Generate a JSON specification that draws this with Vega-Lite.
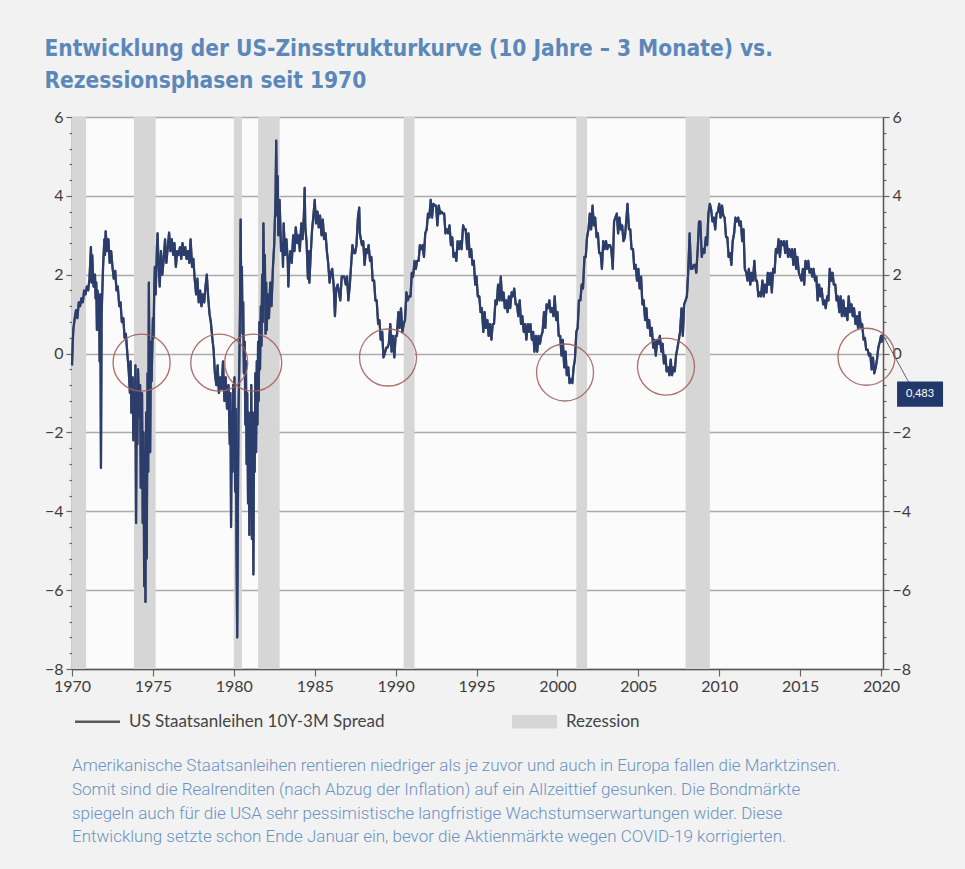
{
"$schema":"https://vega.github.io/schema/vega-lite/v6.json",
"background":"#f2f2f2",
"padding":{"left":44,"top":37,"right":22,"bottom":15},
"title":{"text":["Entwicklung der US-Zinsstrukturkurve (10 Jahre – 3 Monate) vs.","Rezessionsphasen seit 1970"],"anchor":"start","font":"DejaVu Sans Condensed, Liberation Sans Narrow, Roboto","fontSize":22.5,"fontWeight":"bold","color":"#5b88b9","lineHeight":32,"offset":17},
"spacing":27,
"resolve":{"legend":{"color":"independent"}},
"datasets":{
"rec":[{"s":1970.0,"e":1970.87},{"s":1973.83,"e":1975.17},{"s":1980.0,"e":1980.5},{"s":1981.5,"e":1982.83},{"s":1990.5,"e":1991.17},{"s":2001.17,"e":2001.83},{"s":2007.92,"e":2009.42}],
"circ":[{"t":1974.3,"v":-0.23},{"t":1979.1,"v":-0.23},{"t":1981.2,"v":-0.23},{"t":1989.53,"v":-0.1},{"t":2000.47,"v":-0.48},{"t":2006.71,"v":-0.33},{"t":2019.1,"v":-0.08}],
"ann":[{"t":2020.1,"v":0.483,"label":"0,483"}],
"s":[
{"t":1970.00,"v":-0.3},{"t":1970.04,"v":0.2},{"t":1970.08,"v":0.6},{"t":1970.17,"v":0.9},{"t":1970.25,"v":1.1},{"t":1970.33,"v":0.9},{"t":1970.42,"v":1.3},{"t":1970.50,"v":1.2},{"t":1970.58,"v":1.4},{"t":1970.67,"v":1.3},{"t":1970.75,"v":1.6},{"t":1970.83,"v":1.5},{"t":1970.92,"v":1.7},
{"t":1971.00,"v":1.6},{"t":1971.08,"v":1.9},{"t":1971.17,"v":2.7},{"t":1971.21,"v":1.8},{"t":1971.25,"v":2.5},{"t":1971.33,"v":1.7},{"t":1971.42,"v":2.0},{"t":1971.46,"v":1.4},{"t":1971.50,"v":1.8},{"t":1971.54,"v":0.6},{"t":1971.58,"v":1.6},{"t":1971.67,"v":1.2},{"t":1971.71,"v":-0.2},{"t":1971.75,"v":1.5},{"t":1971.79,"v":-2.9},{"t":1971.83,"v":1.0},{"t":1971.92,"v":2.2},
{"t":1972.00,"v":2.9},{"t":1972.04,"v":2.5},{"t":1972.08,"v":3.1},{"t":1972.17,"v":2.6},{"t":1972.25,"v":2.9},{"t":1972.33,"v":2.3},{"t":1972.42,"v":2.6},{"t":1972.50,"v":2.2},{"t":1972.58,"v":1.9},{"t":1972.67,"v":2.1},{"t":1972.75,"v":1.6},{"t":1972.83,"v":1.7},{"t":1972.92,"v":1.2},
{"t":1973.00,"v":1.3},{"t":1973.08,"v":0.8},{"t":1973.17,"v":0.9},{"t":1973.25,"v":0.4},{"t":1973.33,"v":0.5},{"t":1973.42,"v":0.0},{"t":1973.50,"v":-0.4},{"t":1973.58,"v":-1.0},{"t":1973.62,"v":-0.2},{"t":1973.67,"v":-1.5},{"t":1973.75,"v":-0.6},{"t":1973.79,"v":-2.2},{"t":1973.83,"v":-0.9},{"t":1973.88,"v":-1.8},{"t":1973.92,"v":-0.3},{"t":1973.96,"v":-4.3},
{"t":1974.00,"v":-1.0},{"t":1974.04,"v":-2.3},{"t":1974.08,"v":-0.4},{"t":1974.17,"v":-1.6},{"t":1974.21,"v":-0.8},{"t":1974.25,"v":-3.4},{"t":1974.33,"v":-1.0},{"t":1974.37,"v":-4.3},{"t":1974.42,"v":-2.0},{"t":1974.46,"v":-5.9},{"t":1974.50,"v":-2.5},{"t":1974.54,"v":-6.3},{"t":1974.58,"v":-1.5},{"t":1974.62,"v":-5.2},{"t":1974.67,"v":-0.5},{"t":1974.71,"v":-3.0},{"t":1974.75,"v":1.8},{"t":1974.79,"v":-0.8},{"t":1974.83,"v":-2.5},{"t":1974.88,"v":0.3},{"t":1974.92,"v":-0.7},
{"t":1975.00,"v":0.9},{"t":1975.04,"v":0.4},{"t":1975.08,"v":1.6},{"t":1975.12,"v":2.2},{"t":1975.17,"v":1.5},{"t":1975.25,"v":2.7},{"t":1975.29,"v":3.05},{"t":1975.33,"v":2.5},{"t":1975.42,"v":1.7},{"t":1975.50,"v":2.6},{"t":1975.58,"v":2.0},{"t":1975.67,"v":2.4},{"t":1975.75,"v":2.9},{"t":1975.83,"v":2.3},{"t":1975.92,"v":2.7},
{"t":1976.00,"v":3.07},{"t":1976.08,"v":2.6},{"t":1976.17,"v":2.9},{"t":1976.25,"v":2.5},{"t":1976.33,"v":2.8},{"t":1976.42,"v":2.2},{"t":1976.50,"v":2.6},{"t":1976.58,"v":2.5},{"t":1976.67,"v":2.7},{"t":1976.75,"v":2.4},{"t":1976.83,"v":2.8},{"t":1976.92,"v":2.5},
{"t":1977.00,"v":2.7},{"t":1977.08,"v":2.4},{"t":1977.17,"v":2.6},{"t":1977.25,"v":2.3},{"t":1977.33,"v":2.9},{"t":1977.42,"v":2.2},{"t":1977.50,"v":2.4},{"t":1977.58,"v":1.9},{"t":1977.67,"v":1.5},{"t":1977.75,"v":1.9},{"t":1977.83,"v":1.3},{"t":1977.92,"v":1.6},
{"t":1978.00,"v":1.2},{"t":1978.08,"v":1.5},{"t":1978.17,"v":1.3},{"t":1978.25,"v":1.7},{"t":1978.33,"v":2.0},{"t":1978.42,"v":1.4},{"t":1978.50,"v":1.0},{"t":1978.58,"v":0.8},{"t":1978.67,"v":0.4},{"t":1978.75,"v":0.1},{"t":1978.83,"v":-0.5},{"t":1978.92,"v":-0.8},
{"t":1979.00,"v":-0.3},{"t":1979.08,"v":-1.0},{"t":1979.17,"v":-0.6},{"t":1979.25,"v":-0.9},{"t":1979.33,"v":-0.2},{"t":1979.42,"v":-1.2},{"t":1979.50,"v":-0.6},{"t":1979.58,"v":-1.4},{"t":1979.67,"v":-0.8},{"t":1979.75,"v":-2.3},{"t":1979.79,"v":-1.0},{"t":1979.83,"v":-4.4},{"t":1979.88,"v":-1.5},{"t":1979.92,"v":-3.0},{"t":1979.96,"v":-0.8},
{"t":1980.00,"v":-2.5},{"t":1980.04,"v":-0.6},{"t":1980.08,"v":-3.5},{"t":1980.12,"v":-1.4},{"t":1980.17,"v":-5.0},{"t":1980.21,"v":-7.2},{"t":1980.25,"v":-4.0},{"t":1980.29,"v":-1.5},{"t":1980.33,"v":-0.5},{"t":1980.38,"v":1.0},{"t":1980.42,"v":3.4},{"t":1980.46,"v":1.5},{"t":1980.50,"v":2.2},{"t":1980.54,"v":0.5},{"t":1980.58,"v":1.3},{"t":1980.62,"v":-0.5},{"t":1980.67,"v":0.3},{"t":1980.71,"v":-1.8},{"t":1980.75,"v":-0.2},{"t":1980.79,"v":-2.8},{"t":1980.83,"v":-1.0},{"t":1980.88,"v":-3.8},{"t":1980.92,"v":-1.5},{"t":1980.96,"v":-4.6},
{"t":1981.00,"v":-2.0},{"t":1981.04,"v":-3.5},{"t":1981.08,"v":-0.8},{"t":1981.12,"v":-4.7},{"t":1981.17,"v":-1.5},{"t":1981.21,"v":-5.6},{"t":1981.25,"v":-2.0},{"t":1981.29,"v":-3.0},{"t":1981.33,"v":-0.5},{"t":1981.38,"v":-2.5},{"t":1981.42,"v":-0.2},{"t":1981.46,"v":-1.8},{"t":1981.50,"v":0.3},{"t":1981.54,"v":-1.2},{"t":1981.58,"v":0.8},{"t":1981.62,"v":-0.4},{"t":1981.67,"v":1.2},{"t":1981.71,"v":0.2},{"t":1981.75,"v":2.0},{"t":1981.79,"v":0.8},{"t":1981.83,"v":3.3},{"t":1981.88,"v":1.5},{"t":1981.92,"v":2.5},{"t":1981.96,"v":0.5},
{"t":1982.00,"v":1.8},{"t":1982.04,"v":0.6},{"t":1982.08,"v":1.5},{"t":1982.17,"v":0.9},{"t":1982.25,"v":1.8},{"t":1982.33,"v":1.2},{"t":1982.42,"v":2.2},{"t":1982.50,"v":2.8},{"t":1982.58,"v":4.0},{"t":1982.62,"v":5.4},{"t":1982.67,"v":3.5},{"t":1982.71,"v":4.5},{"t":1982.75,"v":3.0},{"t":1982.83,"v":3.9},{"t":1982.92,"v":2.6},
{"t":1983.00,"v":2.8},{"t":1983.04,"v":2.2},{"t":1983.08,"v":3.3},{"t":1983.17,"v":2.5},{"t":1983.25,"v":2.9},{"t":1983.33,"v":2.4},{"t":1983.37,"v":1.7},{"t":1983.42,"v":2.3},{"t":1983.50,"v":2.6},{"t":1983.58,"v":2.3},{"t":1983.67,"v":3.0},{"t":1983.75,"v":2.6},{"t":1983.83,"v":3.2},{"t":1983.92,"v":2.8},
{"t":1984.00,"v":3.0},{"t":1984.08,"v":2.6},{"t":1984.17,"v":3.3},{"t":1984.25,"v":2.9},{"t":1984.33,"v":3.5},{"t":1984.38,"v":4.2},{"t":1984.42,"v":3.2},{"t":1984.50,"v":2.8},{"t":1984.58,"v":1.9},{"t":1984.62,"v":2.6},{"t":1984.67,"v":1.8},{"t":1984.75,"v":2.5},{"t":1984.83,"v":3.1},{"t":1984.92,"v":3.5},
{"t":1985.00,"v":3.9},{"t":1985.08,"v":3.3},{"t":1985.17,"v":3.6},{"t":1985.25,"v":3.2},{"t":1985.33,"v":3.5},{"t":1985.42,"v":3.0},{"t":1985.50,"v":3.4},{"t":1985.58,"v":2.9},{"t":1985.67,"v":3.05},{"t":1985.75,"v":2.6},{"t":1985.83,"v":2.3},{"t":1985.92,"v":1.8},
{"t":1986.00,"v":2.05},{"t":1986.08,"v":2.15},{"t":1986.17,"v":1.75},{"t":1986.25,"v":0.95},{"t":1986.33,"v":1.65},{"t":1986.42,"v":1.75},{"t":1986.50,"v":1.55},{"t":1986.58,"v":1.35},{"t":1986.67,"v":1.95},{"t":1986.75,"v":1.95},{"t":1986.83,"v":1.95},{"t":1986.92,"v":1.75},
{"t":1987.00,"v":1.95},{"t":1987.08,"v":1.35},{"t":1987.17,"v":1.75},{"t":1987.25,"v":2.25},{"t":1987.33,"v":2.75},{"t":1987.42,"v":2.55},{"t":1987.50,"v":2.55},{"t":1987.58,"v":2.75},{"t":1987.67,"v":3.45},{"t":1987.75,"v":3.7},{"t":1987.79,"v":3.05},{"t":1987.83,"v":2.95},{"t":1987.92,"v":2.75},
{"t":1988.00,"v":2.85},{"t":1988.08,"v":2.25},{"t":1988.17,"v":2.65},{"t":1988.25,"v":2.55},{"t":1988.33,"v":2.75},{"t":1988.42,"v":2.35},{"t":1988.50,"v":2.45},{"t":1988.58,"v":1.85},{"t":1988.67,"v":1.85},{"t":1988.75,"v":1.35},{"t":1988.83,"v":1.35},{"t":1988.92,"v":0.75},
{"t":1989.00,"v":0.85},{"t":1989.08,"v":0.35},{"t":1989.17,"v":0.55},{"t":1989.25,"v":-0.1},{"t":1989.33,"v":0.0},{"t":1989.42,"v":0.15},{"t":1989.50,"v":0.15},{"t":1989.58,"v":0.25},{"t":1989.67,"v":0.75},{"t":1989.75,"v":0.05},{"t":1989.83,"v":0.45},{"t":1989.92,"v":-0.1},
{"t":1990.00,"v":0.45},{"t":1990.08,"v":0.45},{"t":1990.17,"v":1.05},{"t":1990.25,"v":0.65},{"t":1990.33,"v":1.15},{"t":1990.42,"v":0.55},{"t":1990.50,"v":0.75},{"t":1990.58,"v":0.85},{"t":1990.67,"v":1.55},{"t":1990.75,"v":1.35},{"t":1990.83,"v":1.45},{"t":1990.92,"v":1.45},
{"t":1991.00,"v":2.05},{"t":1991.08,"v":1.95},{"t":1991.17,"v":2.35},{"t":1991.25,"v":2.15},{"t":1991.33,"v":2.35},{"t":1991.42,"v":2.35},{"t":1991.50,"v":2.75},{"t":1991.58,"v":2.65},{"t":1991.67,"v":2.75},{"t":1991.75,"v":2.45},{"t":1991.83,"v":3.05},{"t":1991.92,"v":3.15},
{"t":1992.00,"v":3.55},{"t":1992.08,"v":3.45},{"t":1992.17,"v":3.9},{"t":1992.25,"v":3.45},{"t":1992.33,"v":3.8},{"t":1992.42,"v":3.75},{"t":1992.50,"v":3.75},{"t":1992.58,"v":3.25},{"t":1992.67,"v":3.75},{"t":1992.75,"v":3.55},{"t":1992.83,"v":3.6},{"t":1992.92,"v":3.55},
{"t":1993.00,"v":3.55},{"t":1993.08,"v":3.05},{"t":1993.17,"v":3.15},{"t":1993.25,"v":3.05},{"t":1993.33,"v":3.25},{"t":1993.42,"v":2.75},{"t":1993.50,"v":2.95},{"t":1993.58,"v":2.45},{"t":1993.67,"v":2.55},{"t":1993.75,"v":2.35},{"t":1993.83,"v":2.85},{"t":1993.92,"v":2.65},
{"t":1994.00,"v":2.85},{"t":1994.08,"v":2.65},{"t":1994.17,"v":3.25},{"t":1994.25,"v":3.15},{"t":1994.33,"v":3.15},{"t":1994.42,"v":2.65},{"t":1994.50,"v":3.05},{"t":1994.58,"v":2.45},{"t":1994.67,"v":2.65},{"t":1994.75,"v":2.25},{"t":1994.83,"v":2.35},{"t":1994.92,"v":1.75},
{"t":1995.00,"v":1.95},{"t":1995.08,"v":1.45},{"t":1995.17,"v":1.45},{"t":1995.25,"v":1.05},{"t":1995.33,"v":1.15},{"t":1995.42,"v":0.55},{"t":1995.50,"v":1.05},{"t":1995.58,"v":0.65},{"t":1995.67,"v":0.85},{"t":1995.75,"v":0.45},{"t":1995.83,"v":0.75},{"t":1995.92,"v":0.35},
{"t":1996.00,"v":0.75},{"t":1996.08,"v":0.75},{"t":1996.17,"v":1.35},{"t":1996.25,"v":1.25},{"t":1996.33,"v":1.75},{"t":1996.42,"v":1.35},{"t":1996.50,"v":1.95},{"t":1996.58,"v":1.35},{"t":1996.67,"v":1.55},{"t":1996.75,"v":1.15},{"t":1996.83,"v":1.35},{"t":1996.92,"v":1.05},
{"t":1997.00,"v":1.45},{"t":1997.08,"v":1.15},{"t":1997.17,"v":1.55},{"t":1997.25,"v":1.45},{"t":1997.33,"v":1.65},{"t":1997.42,"v":1.25},{"t":1997.50,"v":1.25},{"t":1997.58,"v":0.95},{"t":1997.67,"v":1.35},{"t":1997.75,"v":0.75},{"t":1997.83,"v":0.95},{"t":1997.92,"v":0.55},
{"t":1998.00,"v":0.75},{"t":1998.08,"v":0.35},{"t":1998.17,"v":0.75},{"t":1998.25,"v":0.55},{"t":1998.33,"v":0.75},{"t":1998.42,"v":0.35},{"t":1998.50,"v":0.55},{"t":1998.58,"v":0.05},{"t":1998.67,"v":0.45},{"t":1998.75,"v":0.05},{"t":1998.83,"v":0.45},{"t":1998.92,"v":0.25},
{"t":1999.00,"v":0.45},{"t":1999.08,"v":0.55},{"t":1999.17,"v":1.05},{"t":1999.25,"v":0.65},{"t":1999.33,"v":1.25},{"t":1999.42,"v":1.15},{"t":1999.50,"v":1.35},{"t":1999.58,"v":1.05},{"t":1999.67,"v":1.15},{"t":1999.75,"v":0.95},{"t":1999.83,"v":1.45},{"t":1999.92,"v":0.85},
{"t":2000.00,"v":1.05},{"t":2000.08,"v":0.45},{"t":2000.17,"v":0.45},{"t":2000.25,"v":-0.05},{"t":2000.33,"v":0.35},{"t":2000.42,"v":-0.35},{"t":2000.50,"v":0.05},{"t":2000.58,"v":-0.55},{"t":2000.67,"v":-0.35},{"t":2000.75,"v":-0.75},{"t":2000.83,"v":-0.65},{"t":2000.92,"v":-0.75},
{"t":2001.00,"v":-0.35},{"t":2001.08,"v":-0.15},{"t":2001.17,"v":0.55},{"t":2001.25,"v":0.65},{"t":2001.33,"v":1.35},{"t":2001.42,"v":1.35},{"t":2001.50,"v":1.75},{"t":2001.58,"v":1.65},{"t":2001.67,"v":2.45},{"t":2001.75,"v":2.45},{"t":2001.83,"v":2.95},{"t":2001.92,"v":3.15},
{"t":2002.00,"v":3.55},{"t":2002.08,"v":3.15},{"t":2002.17,"v":3.75},{"t":2002.25,"v":3.25},{"t":2002.33,"v":3.45},{"t":2002.42,"v":2.95},{"t":2002.50,"v":3.05},{"t":2002.58,"v":2.55},{"t":2002.67,"v":2.55},{"t":2002.75,"v":2.15},{"t":2002.83,"v":2.85},{"t":2002.92,"v":2.65},
{"t":2003.00,"v":2.85},{"t":2003.08,"v":2.65},{"t":2003.17,"v":2.75},{"t":2003.25,"v":2.75},{"t":2003.33,"v":2.65},{"t":2003.42,"v":2.15},{"t":2003.50,"v":3.35},{"t":2003.58,"v":3.45},{"t":2003.67,"v":3.55},{"t":2003.75,"v":3.05},{"t":2003.83,"v":3.45},{"t":2003.92,"v":3.15},
{"t":2004.00,"v":3.25},{"t":2004.08,"v":2.85},{"t":2004.17,"v":2.95},{"t":2004.25,"v":3.35},{"t":2004.33,"v":3.8},{"t":2004.42,"v":3.15},{"t":2004.50,"v":3.15},{"t":2004.58,"v":2.65},{"t":2004.67,"v":2.65},{"t":2004.75,"v":2.15},{"t":2004.83,"v":2.25},{"t":2004.92,"v":1.85},
{"t":2005.00,"v":2.15},{"t":2005.08,"v":1.65},{"t":2005.17,"v":1.95},{"t":2005.25,"v":1.25},{"t":2005.33,"v":1.35},{"t":2005.42,"v":0.85},{"t":2005.50,"v":1.15},{"t":2005.58,"v":0.65},{"t":2005.67,"v":0.85},{"t":2005.75,"v":0.45},{"t":2005.83,"v":0.65},{"t":2005.92,"v":0.15},
{"t":2006.00,"v":0.35},{"t":2006.08,"v":-0.05},{"t":2006.17,"v":0.35},{"t":2006.25,"v":0.25},{"t":2006.33,"v":0.45},{"t":2006.42,"v":0.05},{"t":2006.50,"v":0.25},{"t":2006.58,"v":-0.25},{"t":2006.67,"v":-0.05},{"t":2006.75,"v":-0.45},{"t":2006.83,"v":-0.35},{"t":2006.92,"v":-0.55},
{"t":2007.00,"v":-0.15},{"t":2007.08,"v":-0.55},{"t":2007.17,"v":-0.35},{"t":2007.25,"v":-0.45},{"t":2007.33,"v":-0.05},{"t":2007.42,"v":0.15},{"t":2007.50,"v":0.35},{"t":2007.58,"v":0.55},{"t":2007.67,"v":1.15},{"t":2007.75,"v":0.45},{"t":2007.83,"v":1.25},{"t":2007.92,"v":1.35},
{"t":2008.00,"v":1.45},{"t":2008.08,"v":2.05},{"t":2008.17,"v":3.05},{"t":2008.25,"v":2.15},{"t":2008.33,"v":2.15},{"t":2008.42,"v":2.25},{"t":2008.50,"v":2.25},{"t":2008.58,"v":2.05},{"t":2008.67,"v":2.65},{"t":2008.75,"v":3.35},{"t":2008.83,"v":3.35},{"t":2008.92,"v":2.45},
{"t":2009.00,"v":2.65},{"t":2009.08,"v":2.55},{"t":2009.17,"v":2.95},{"t":2009.25,"v":2.75},{"t":2009.33,"v":3.55},{"t":2009.42,"v":3.8},{"t":2009.50,"v":3.65},{"t":2009.58,"v":3.35},{"t":2009.67,"v":3.45},{"t":2009.75,"v":3.15},{"t":2009.83,"v":3.55},{"t":2009.92,"v":3.6},
{"t":2010.00,"v":3.8},{"t":2010.08,"v":3.45},{"t":2010.17,"v":3.75},{"t":2010.25,"v":3.5},{"t":2010.33,"v":3.45},{"t":2010.42,"v":2.95},{"t":2010.50,"v":2.95},{"t":2010.58,"v":2.45},{"t":2010.67,"v":2.55},{"t":2010.75,"v":2.25},{"t":2010.83,"v":2.85},{"t":2010.92,"v":3.05},
{"t":2011.00,"v":3.45},{"t":2011.08,"v":3.35},{"t":2011.17,"v":3.45},{"t":2011.25,"v":3.25},{"t":2011.33,"v":3.35},{"t":2011.42,"v":2.85},{"t":2011.50,"v":3.15},{"t":2011.58,"v":2.15},{"t":2011.67,"v":2.05},{"t":2011.75,"v":1.85},{"t":2011.83,"v":2.15},{"t":2011.92,"v":1.75},
{"t":2012.00,"v":2.05},{"t":2012.08,"v":1.85},{"t":2012.17,"v":2.35},{"t":2012.25,"v":1.85},{"t":2012.33,"v":1.85},{"t":2012.42,"v":1.45},{"t":2012.50,"v":1.55},{"t":2012.58,"v":1.45},{"t":2012.67,"v":1.85},{"t":2012.75,"v":1.45},{"t":2012.83,"v":1.75},{"t":2012.92,"v":1.55},
{"t":2013.00,"v":2.05},{"t":2013.08,"v":1.75},{"t":2013.17,"v":2.05},{"t":2013.25,"v":1.55},{"t":2013.33,"v":2.15},{"t":2013.42,"v":2.05},{"t":2013.50,"v":2.65},{"t":2013.58,"v":2.55},{"t":2013.67,"v":2.9},{"t":2013.75,"v":2.45},{"t":2013.83,"v":2.85},{"t":2013.92,"v":2.75},
{"t":2014.00,"v":2.85},{"t":2014.08,"v":2.55},{"t":2014.17,"v":2.85},{"t":2014.25,"v":2.45},{"t":2014.33,"v":2.65},{"t":2014.42,"v":2.45},{"t":2014.50,"v":2.65},{"t":2014.58,"v":2.25},{"t":2014.67,"v":2.65},{"t":2014.75,"v":2.15},{"t":2014.83,"v":2.45},{"t":2014.92,"v":2.05},
{"t":2015.00,"v":1.95},{"t":2015.08,"v":1.85},{"t":2015.17,"v":2.15},{"t":2015.25,"v":1.75},{"t":2015.33,"v":2.35},{"t":2015.42,"v":2.15},{"t":2015.50,"v":2.35},{"t":2015.58,"v":2.05},{"t":2015.67,"v":2.15},{"t":2015.75,"v":1.95},{"t":2015.83,"v":2.15},{"t":2015.92,"v":1.85},
{"t":2016.00,"v":1.95},{"t":2016.08,"v":1.35},{"t":2016.17,"v":1.75},{"t":2016.25,"v":1.45},{"t":2016.33,"v":1.65},{"t":2016.42,"v":1.25},{"t":2016.50,"v":1.35},{"t":2016.58,"v":1.15},{"t":2016.67,"v":1.45},{"t":2016.75,"v":1.35},{"t":2016.83,"v":2.15},{"t":2016.92,"v":1.85},
{"t":2017.00,"v":2.05},{"t":2017.08,"v":1.75},{"t":2017.17,"v":1.75},{"t":2017.25,"v":1.35},{"t":2017.33,"v":1.45},{"t":2017.42,"v":1.05},{"t":2017.50,"v":1.45},{"t":2017.58,"v":0.95},{"t":2017.67,"v":1.35},{"t":2017.75,"v":0.95},{"t":2017.83,"v":1.15},{"t":2017.92,"v":0.85},
{"t":2018.00,"v":1.45},{"t":2018.08,"v":1.05},{"t":2018.17,"v":1.25},{"t":2018.25,"v":0.95},{"t":2018.33,"v":1.15},{"t":2018.42,"v":0.75},{"t":2018.50,"v":0.95},{"t":2018.58,"v":0.65},{"t":2018.67,"v":1.05},{"t":2018.75,"v":0.65},{"t":2018.83,"v":0.75},{"t":2018.92,"v":0.35},
{"t":2019.00,"v":0.4},{"t":2019.08,"v":0.1},{"t":2019.17,"v":0.1},{"t":2019.25,"v":-0.05},{"t":2019.33,"v":0.0},{"t":2019.42,"v":-0.4},{"t":2019.50,"v":-0.1},{"t":2019.58,"v":-0.5},{"t":2019.67,"v":-0.35},{"t":2019.75,"v":-0.15},{"t":2019.83,"v":0.15},{"t":2019.92,"v":0.3},
{"t":2020.00,"v":0.45},{"t":2020.04,"v":0.3},{"t":2020.08,"v":0.483}
]},
"vconcat":[
{"width":811,"height":552,
"view":{"fill":"#fbfbfb","stroke":null},
"resolve":{"axis":{"y":"independent"}},
"layer":[
{"data":{"name":"rec"},"mark":{"type":"rect","clip":true},
"encoding":{"x":{"field":"s","type":"quantitative","scale":{"domain":[1970,2020.12],"nice":false,"zero":false},
"axis":{"values":[1970,1975,1980,1985,1990,1995,2000,2005,2010,2015,2020],"format":"d","grid":false,"title":null,"labelFlush":false}},
"x2":{"field":"e"},
"y":{"datum":6,"type":"quantitative","scale":{"domain":[-8,6],"nice":false},"axis":null},
"y2":{"datum":-8},
"color":{"datum":"Rezession"}}},
{"data":{"name":"s"},"mark":{"type":"line","strokeWidth":2.2,"strokeJoin":"round","interpolate":"linear"},
"encoding":{"x":{"field":"t","type":"quantitative"},
"y":{"field":"v","type":"quantitative","axis":{"orient":"left","title":null,"values":[-8,-7.6,-7.2,-6.8,-6.4,-6,-5.6,-5.2,-4.8,-4.4,-4,-3.6,-3.2,-2.8,-2.4,-2,-1.6,-1.2,-0.8,-0.4,0,0.4,0.8,1.2,1.6,2,2.4,2.8,3.2,3.6,4,4.4,4.8,5.2,5.6,6],
"labelExpr":"abs(datum.value - round(datum.value/2)*2) > 0.05 ? '' : format(datum.value, 'd')",
"grid":true,
"gridOpacity":{"condition":{"test":"abs(datum.value - round(datum.value/2)*2) > 0.05","value":0},"value":1},
"tickSize":{"condition":{"test":"abs(datum.value - round(datum.value/2)*2) > 0.05","value":3},"value":6}}},
"color":{"datum":"US Staatsanleihen 10Y-3M Spread","type":"nominal","scale":{"domain":["US Staatsanleihen 10Y-3M Spread","Rezession"],"range":["#5a5a5a","#d6d6d6"]},
"legend":{"title":null,"orient":"none","legendX":17,"legendY":596,"direction":"horizontal","columnPadding":127,"symbolSize":2025,"labelFont":"Lato","labelFontSize":17,"labelColor":"#444444","labelOffset":23,"labelLimit":400,"padding":0,
"encode":{"symbols":{"update":{
"shape":{"signal":"datum.value === 'Rezession' ? 'M-1,-0.3H1V0.3H-1Z' : 'M-1,0H1'"},
"fill":{"signal":"datum.value === 'Rezession' ? '#d6d6d6' : 'transparent'"},
"strokeWidth":{"signal":"datum.value === 'Rezession' ? 0 : 2.5"},
"opacity":{"value":1}}}}}}}},
{"data":{"name":"s"},"mark":{"type":"line","strokeWidth":2.2,"strokeJoin":"round","interpolate":"linear","color":"#2b3d6d"},
"encoding":{"x":{"field":"t","type":"quantitative"},"y":{"field":"v","type":"quantitative","axis":null}}},
{"data":{"name":"circ"},"mark":{"type":"point","shape":"circle","size":3249,"filled":false,"stroke":"#a5605e","strokeWidth":1.3,"opacity":0.9},
"encoding":{"x":{"field":"t","type":"quantitative"},
"y":{"field":"v","type":"quantitative","axis":{"orient":"right","title":null,"values":[-8,-7.6,-7.2,-6.8,-6.4,-6,-5.6,-5.2,-4.8,-4.4,-4,-3.6,-3.2,-2.8,-2.4,-2,-1.6,-1.2,-0.8,-0.4,0,0.4,0.8,1.2,1.6,2,2.4,2.8,3.2,3.6,4,4.4,4.8,5.2,5.6,6],
"labelExpr":"abs(datum.value - round(datum.value/2)*2) > 0.05 ? '' : format(datum.value, 'd')",
"grid":false,
"tickSize":{"condition":{"test":"abs(datum.value - round(datum.value/2)*2) > 0.05","value":3},"value":6}}}}},
{"data":{"name":"ann"},"mark":{"type":"rule","stroke":"#666666","strokeWidth":1},
"encoding":{"x":{"field":"t","type":"quantitative"},"y":{"field":"v","type":"quantitative","axis":null},"x2":{"datum":2021.7},"y2":{"datum":-0.72}}},
{"data":{"name":"ann"},"mark":{"type":"rect","fill":"#23386a"},
"encoding":{"x":{"datum":2020.99,"type":"quantitative"},"x2":{"datum":2023.83},"y":{"datum":-0.71,"type":"quantitative","axis":null},"y2":{"datum":-1.35}}},
{"data":{"name":"ann"},"mark":{"type":"text","color":"#ffffff","font":"Lato","fontSize":11,"align":"center","baseline":"middle"},
"encoding":{"x":{"datum":2022.41,"type":"quantitative"},"y":{"datum":-1.03,"type":"quantitative","axis":null},"text":{"field":"label"}}}
]},
{"width":880,"height":1,"data":{"values":[{"a":""}]},"mark":{"type":"text"},"encoding":{"text":{"field":"a"}},
"title":{"text":["Amerikanische Staatsanleihen rentieren niedriger als je zuvor und auch in Europa fallen die Marktzinsen.","Somit sind die Realrenditen (nach Abzug der Inflation) auf ein Allzeittief gesunken. Die Bondmärkte","spiegeln auch für die USA sehr pessimistische langfristige Wachstumserwartungen wider. Diese","Entwicklung setzte schon Ende Januar ein, bevor die Aktienmärkte wegen COVID-19 korrigierten."],
"anchor":"start","orient":"top","font":"Roboto","fontWeight":300,"fontSize":17,"lineHeight":23.7,"color":"#6a93c3","offset":0}}
],
"config":{
"view":{"stroke":null},
"axis":{"labelFont":"Lato","labelFontSize":16,"labelColor":"#3d3d3d","domainColor":"#555555","domainWidth":1.5,"tickColor":"#666666","tickWidth":1.2,"gridColor":"#aaaaaa","gridWidth":1.3,"labelPadding":3},
"axisX":{"tickSize":7,"labelPadding":2}
}
}
